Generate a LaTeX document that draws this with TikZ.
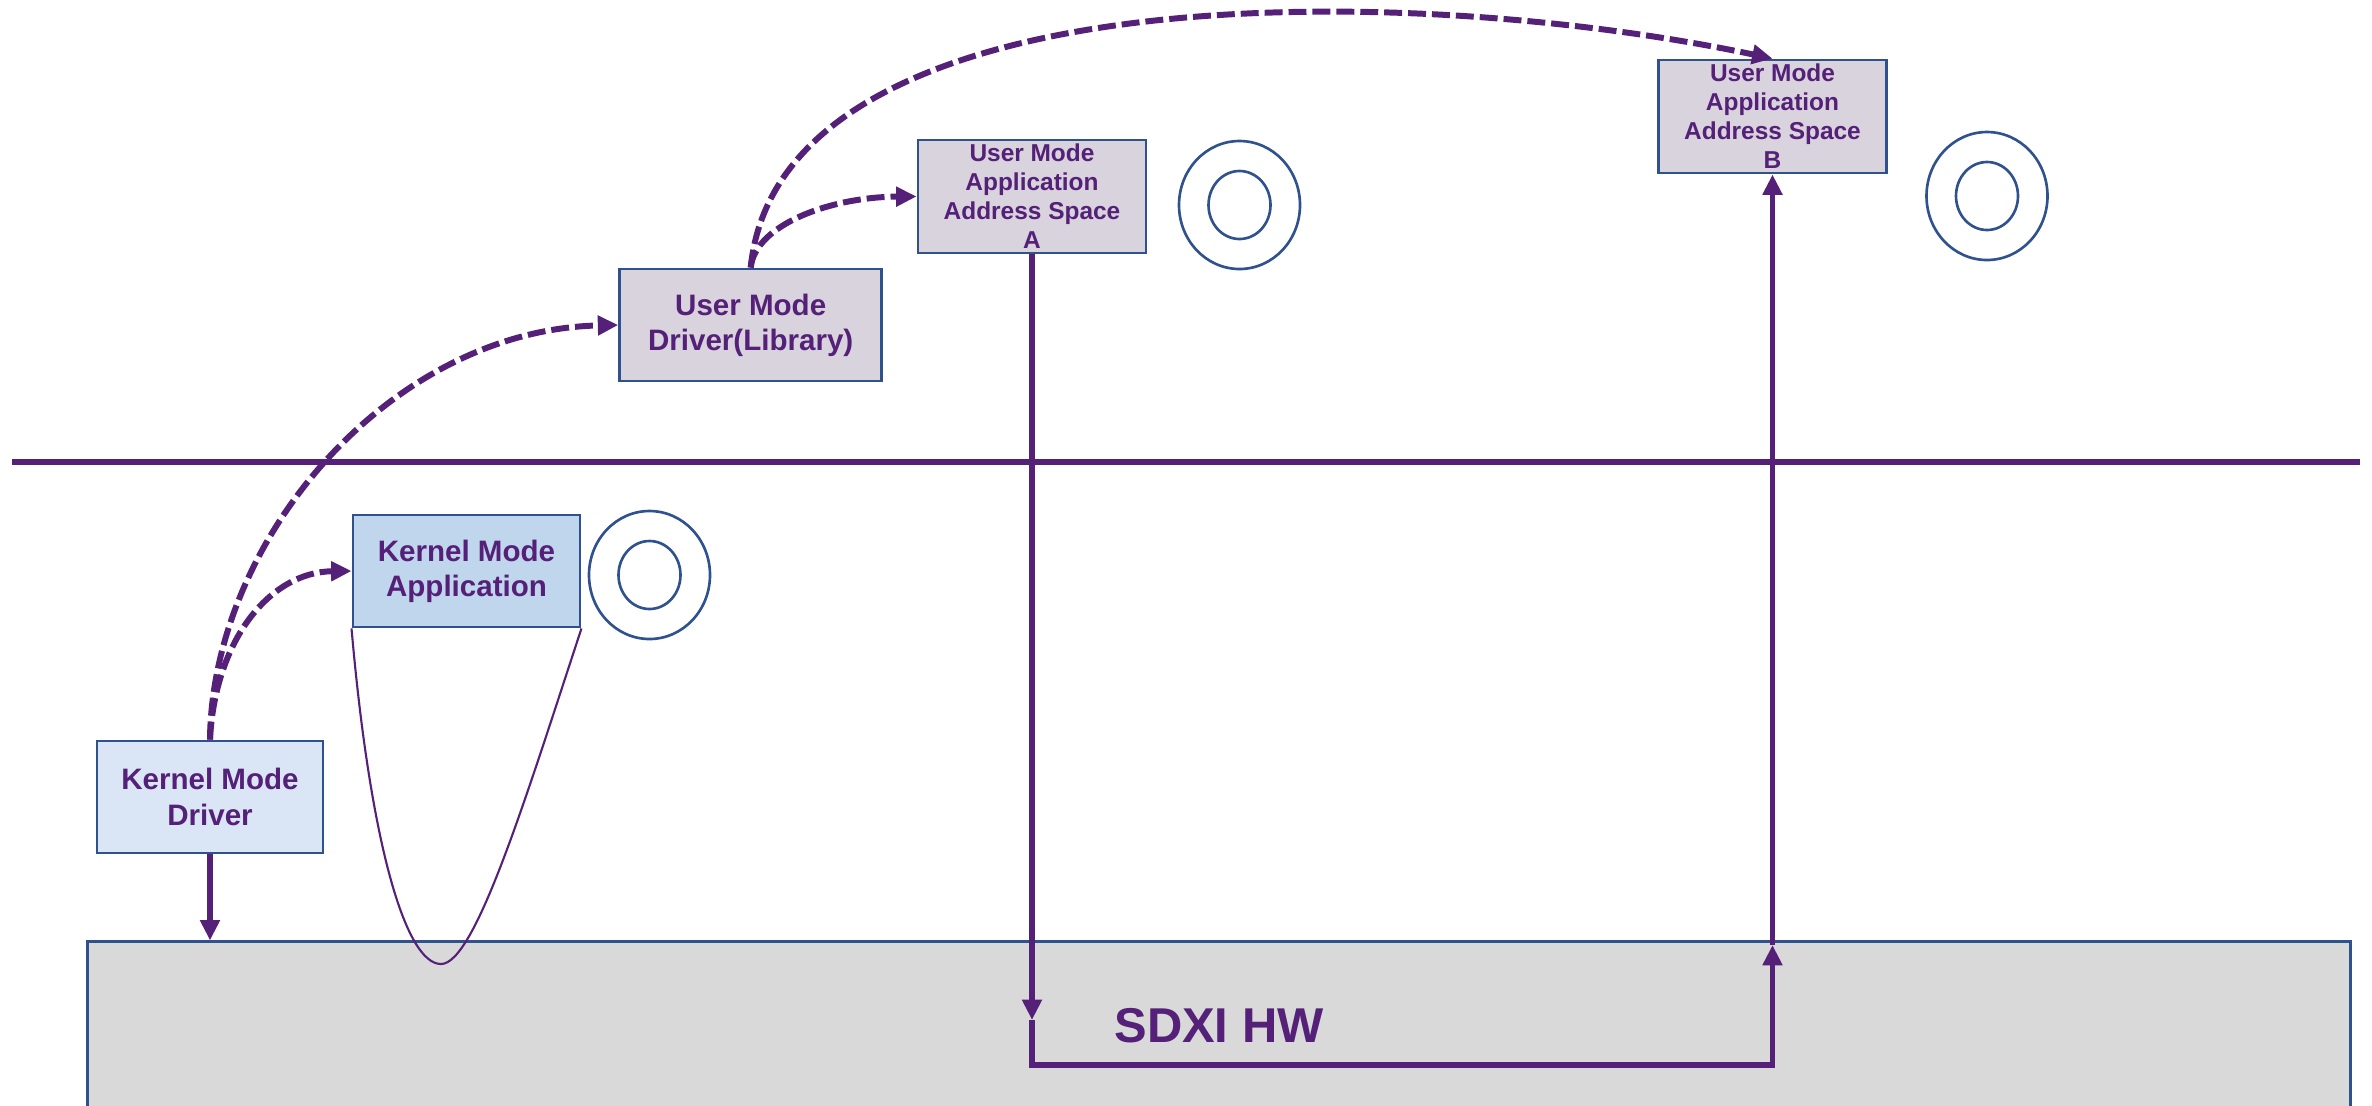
\documentclass[tikz,border=0pt]{standalone}
\usepackage{fontspec}
\setmainfont{Liberation Sans}
\usetikzlibrary{arrows.meta}
\definecolor{MyInk}{RGB}{84,32,120}
\definecolor{MyEdge}{RGB}{47,82,143}
\definecolor{MyKDrv}{RGB}{218,230,245}
\definecolor{MyKApp}{RGB}{192,214,236}
\definecolor{MyUser}{RGB}{216,211,220}
\definecolor{MyHW}{RGB}{217,217,217}
\tikzset{
    >={Triangle[length=5.8pt,width=5.4pt]},
    block/.style={
      rectangle,
      draw=MyEdge,
      line width=0.8pt,
      text=MyInk,
      align=center,
      inner sep=0pt
    },
    kernel/.style={
      block,
      font=\bfseries\fontsize{8.4}{10}\selectfont,
      minimum width=2.27cm,
      minimum height=1.12cm
    },
    user/.style={
      block,
      fill=MyUser,
      font=\bfseries\fontsize{6.95}{8.25}\selectfont,
      minimum width=2.28cm,
      minimum height=1.13cm
    },
    hwbox/.style={
      block,
      fill=MyHW,
      line width=0.85pt,
      font=\bfseries\fontsize{13.9}{16}\selectfont,
      minimum width=22.62cm,
      minimum height=1.68cm
    },
    calls/.style={->,draw=MyInk,line width=1.7pt,dash pattern=on 5.1pt off 1.7pt},
    flow/.style={->,draw=MyInk,line width=1.5pt},
    ring/.style={draw=MyEdge,line width=0.75pt},
}

\begin{document}
\begin{tikzpicture}[x=0.01cm,y=-0.01cm]
    \useasboundingbox (0,0) rectangle (2372,1105);

    % hardware and the kernel / user border
    \node[hwbox] at (1219,1026) (hw) {SDXI HW};
    \draw[draw=MyInk,line width=1.6pt] (12,462) -- (2360,462);

    % boxes
    \node[kernel,fill=MyKDrv,minimum width=2.26cm] at (210,797) (kmd) {Kernel Mode\\Driver};
    \node[kernel,fill=MyKApp] at (466.5,571) (kma) {Kernel Mode\\Application};
    \node[kernel,fill=MyUser,minimum width=2.62cm] at (750.7,325) (umd) {User Mode\\Driver(Library)};
    \node[user] at (1032,196.5) (uasA) {User Mode\\Application\\Address Space\\A};
    \node[user] at (1772.5,116.5) (uasB) {User Mode\\Application\\Address Space\\B};

    \foreach \cx/\cy in {649.5/575, 1239.5/205, 1987/196} {
      \draw[ring] (\cx,\cy) ellipse (60.5 and 64);
      \draw[ring] (\cx,\cy) ellipse (31 and 34);
    }

    \draw[draw=MyInk,line width=0.6pt] (kma.south west) .. controls (370,840) and (405,964) .. (441,964)
      .. controls (475,964) and (525,800) .. (kma.south east);

    % calls
    \draw[calls] (kmd.north) .. controls (215,640) and (270,572) .. (kma.west);
    \draw[calls] (kmd.north) .. controls (212,540) and (390,330) .. (umd.west);
    \draw[calls] (umd.north) .. controls (755,225) and (830,197) .. (uasA.west);
    \draw[calls] (umd.north) .. controls (780,-25) and (1400,-20) .. (uasB.north);

    % data path through the hardware
    \coordinate (dnA) at (uasA.south |- 0,1020);
    \coordinate (cnA) at (uasA.south |- 0,1065);
    \coordinate (cnB) at (uasB.south |- 0,1065);
    \coordinate (upB) at (uasB.south |- 0,945);
    \draw[flow] (kmd.south) -- (kmd.south |- hw.north);
    \draw[flow] (uasA.south) -- (dnA);
    \draw[flow] (dnA) -- (cnA) -- (cnB) -- (upB);
    \draw[flow] (upB) -- (uasB.south);

\end{tikzpicture}
\end{document}
